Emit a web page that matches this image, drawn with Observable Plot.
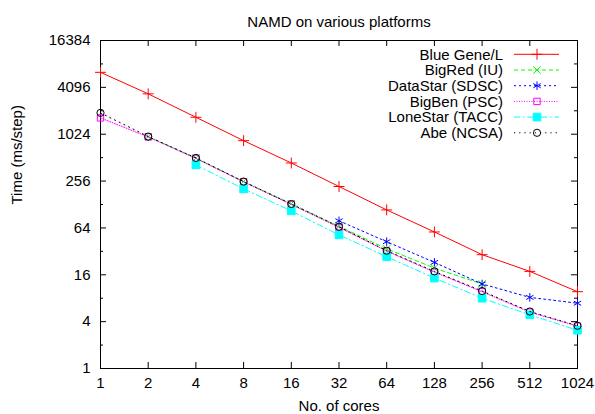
<!DOCTYPE html>
<html>
<head>
<meta charset="utf-8">
<script src="https://cdn.jsdelivr.net/npm/d3@7"></script>
<script src="https://cdn.jsdelivr.net/npm/@observablehq/plot@0.6"></script>
<style>
  html, body { margin: 0; padding: 0; background: white; }
  #chart { width: 595px; height: 414px; }
</style>
</head>
<body>
<div id="chart"></div>
<script>
// ---- data ----
const cores = [1, 2, 4, 8, 16, 32, 64, 128, 256, 512, 1024];
const blueGeneL = [6390, 3380, 1690, 846, 437, 218, 109, 56.8, 29, 17.7, 9.7];
const bigRed    = [null, 955, 505, 252, 131, 67, 34.5, 19.5, 12.2, null, null];
const dataStar  = [null, null, null, null, null, 79, 42.6, 23.1, 12.2, 8.2, 6.9];
const bigBen    = [1660, 945, 500, 250, 128, 65, 32.3, 17.3, 9.7, 5.3, 3.5];
const loneStar  = [null, null, 413, 203, 106, 52, 27.3, 14.5, 8.0, 4.9, 3.1];
const abe       = [1925, 955, 508, 252, 130, 66.4, 32.6, 17.7, 9.9, 5.4, 3.54];
const seriesNames = ["Blue Gene/L", "BigRed (IU)", "DataStar (SDSC)", "BigBen (PSC)", "LoneStar (TACC)", "Abe (NCSA)"];
const yMajorTicks = [1, 4, 16, 64, 256, 1024, 4096, 16384];
const yMinorTicks = [2, 8, 32, 128, 512, 2048, 8192];
const titleText = "NAMD on various platforms";
const xLabel = "No. of cores";
const yLabel = "Time (ms/step)";

// ---- styles ----
const seriesValues = [blueGeneL, bigRed, dataStar, bigBen, loneStar, abe];
const styles = [
  {color: "#ff0000", dash: null,        symbol: "plus",     r: 3.6, filled: false, d3sym: d3.symbolPlus},
  {color: "#00ff00", dash: "4,3",       symbol: "times",    r: 3.4, filled: false, d3sym: d3.symbolTimes},
  {color: "#0000ff", dash: "2,3",       symbol: "asterisk", r: 4.0, filled: false, d3sym: d3.symbolAsterisk},
  {color: "#ff00ff", dash: "1,1.5",     symbol: "square",   r: 3.6, filled: false, d3sym: d3.symbolSquare},
  {color: "#00ffff", dash: "6,3,1.5,3", symbol: "square",   r: 4.3, filled: true,  d3sym: d3.symbolSquare},
  {color: "#000000", dash: "1.2,4",     symbol: "circle",   r: 3.6, filled: false, d3sym: d3.symbolCircle}
];

const rowsFor = (vals, name) => cores.map((c, i) => ({cores: c, time: vals[i], name})).filter(d => d.time != null);

const W = 595, H = 414;
const mL = 100, mR = 18, mT = 40, mB = 46;
const pw = W - mL - mR, ph = H - mT - mB;
const font = "'Liberation Sans', Arial, Helvetica, sans-serif";

const marks = [
  Plot.frame({stroke: "black", strokeWidth: 1}),
  // inward ticks, mirrored
  Plot.ruleX(cores, {x: d => d, insetTop: ph - 6, stroke: "black"}),
  Plot.ruleX(cores, {x: d => d, insetBottom: ph - 6, stroke: "black"}),
  Plot.ruleY(yMajorTicks, {y: d => d, insetRight: pw - 6, stroke: "black"}),
  Plot.ruleY(yMajorTicks, {y: d => d, insetLeft: pw - 6, stroke: "black"}),
  Plot.ruleY(yMinorTicks, {y: d => d, insetRight: pw - 3, stroke: "black"}),
  Plot.ruleY(yMinorTicks, {y: d => d, insetLeft: pw - 3, stroke: "black"}),
  Plot.axisX({ticks: cores, tickSize: 0, tickPadding: 9, tickFormat: d => String(d), fontSize: 15, label: null}),
  Plot.axisY({ticks: yMajorTicks, tickSize: 0, tickPadding: 10, tickFormat: d => String(d), fontSize: 15, label: null}),
  Plot.text([titleText], {frameAnchor: "top", dy: -24, fontSize: 15, fill: "black"}),
  Plot.text([xLabel], {frameAnchor: "bottom", dy: 42, fontSize: 15, fill: "black"}),
  Plot.text([yLabel], {frameAnchor: "left", dx: -83, rotate: -90, fontSize: 15, fill: "black"})
];

seriesValues.forEach((vals, i) => {
  const s = styles[i];
  const rows = rowsFor(vals, seriesNames[i]);
  marks.push(Plot.line(rows, {x: "cores", y: "time", stroke: s.color, strokeWidth: 1, strokeDasharray: s.dash || undefined}));
  marks.push(Plot.dot(rows, {
    x: "cores", y: "time", symbol: () => s.symbol, r: s.r,
    fill: s.filled ? s.color : "none", stroke: s.color, strokeWidth: 1
  }));
});

const chart = Plot.plot({
  width: W, height: H,
  marginLeft: mL, marginRight: mR, marginTop: mT, marginBottom: mB,
  style: {fontFamily: font, fontSize: "15px", background: "white", color: "black"},
  x: {type: "log", base: 2, domain: [1, 1024]},
  y: {type: "log", base: 2, domain: [1, 16384]},
  symbol: {type: "identity"},
  marks
});

// ---- legend (inside top-right) ----
const svg = d3.select(chart);
const lg = svg.append("g").attr("font-family", font).attr("font-size", 15);
seriesNames.forEach((name, i) => {
  const s = styles[i];
  const y = 54.3 + i * 15.7;
  lg.append("text").attr("x", 503).attr("y", y).attr("dy", "0.35em")
    .attr("text-anchor", "end").attr("fill", "black").text(name);
  lg.append("line").attr("x1", 514).attr("x2", 559).attr("y1", y).attr("y2", y)
    .attr("stroke", s.color).attr("stroke-width", 1)
    .attr("stroke-dasharray", s.dash || null);
  lg.append("path")
    .attr("d", d3.symbol().type(s.d3sym).size(Math.PI * s.r * s.r)())
    .attr("transform", `translate(537,${y})`)
    .attr("fill", s.filled ? s.color : "none")
    .attr("stroke", s.color).attr("stroke-width", 1);
});

document.getElementById("chart").appendChild(chart);
</script>
</body>
</html>
